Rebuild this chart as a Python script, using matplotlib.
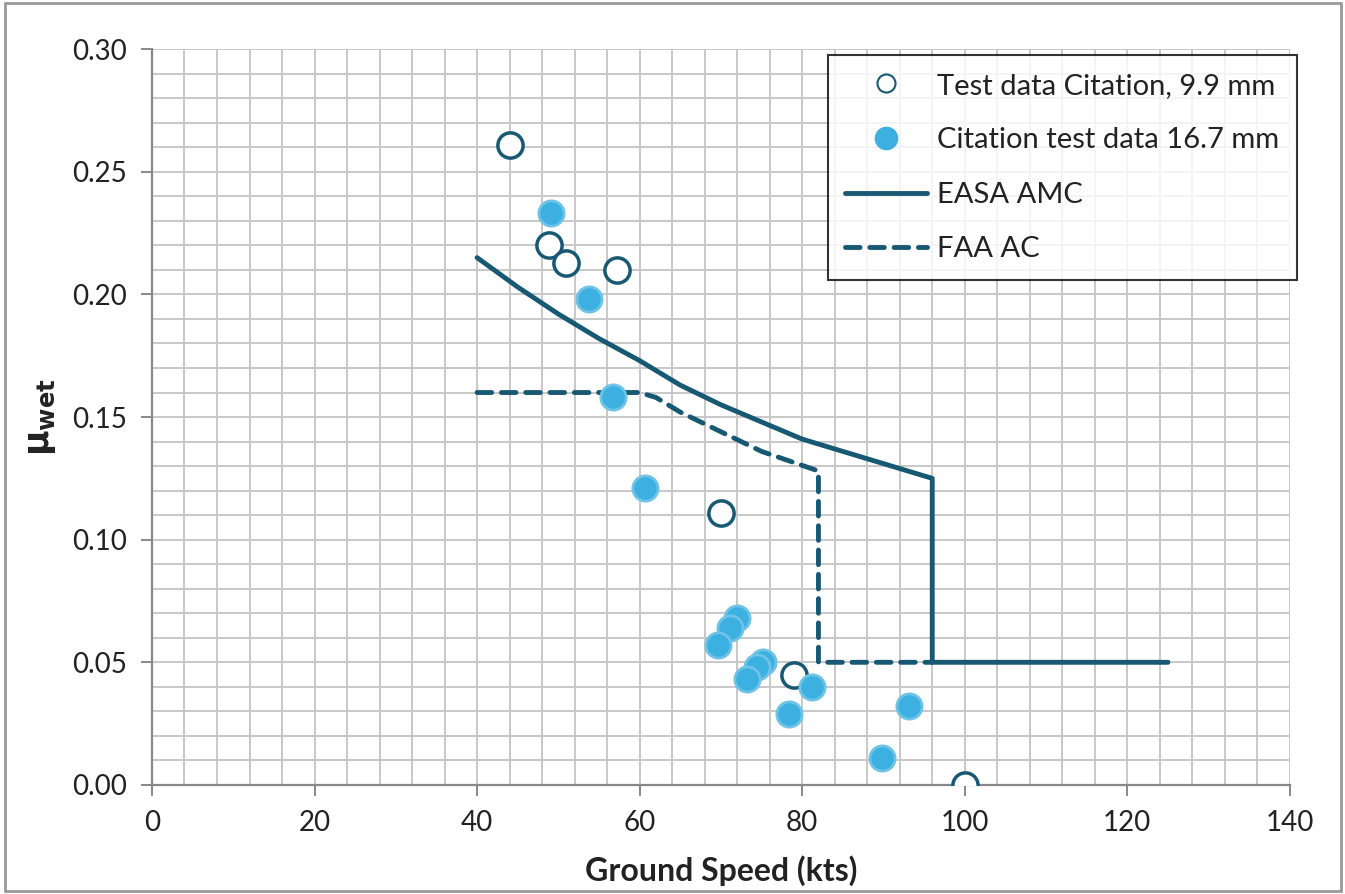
import matplotlib.pyplot as plt
from matplotlib.lines import Line2D
from matplotlib.patches import Rectangle
from matplotlib.ticker import MultipleLocator

plt.rcParams['font.family'] = ['Lato', 'DejaVu Sans']

# Test data Citation, 9.9 mm (open circles)
speed_99 = [44, 48.8, 51, 57.2, 70, 79, 100]
mu_99 = [0.261, 0.220, 0.213, 0.210, 0.111, 0.045, 0.000]

# Citation test data 16.7 mm (filled circles)
speed_167 = [49.1, 53.8, 56.7, 60.6, 72.0, 71.1, 69.6, 75.2, 74.4, 73.2, 78.4, 81.2, 89.8, 93.1]
mu_167 = [0.233, 0.198, 0.158, 0.121, 0.068, 0.064, 0.057, 0.050, 0.048, 0.043, 0.029, 0.040, 0.011, 0.032]

# EASA AMC curve
easa_speed = [40, 45, 50, 55, 60, 65, 70, 75, 80, 85, 90, 96, 96, 125]
easa_mu = [0.215, 0.203, 0.192, 0.182, 0.173, 0.163, 0.155, 0.148, 0.141, 0.136, 0.131, 0.125, 0.050, 0.050]

# FAA AC curve
faa_speed = [40, 60, 62, 65, 70, 75, 82, 82, 96]
faa_mu = [0.160, 0.160, 0.158, 0.152, 0.144, 0.136, 0.128, 0.050, 0.050]

dark = '#175873'
light = '#3cb0e0'

fig = plt.figure(figsize=(13.45, 8.94), dpi=100)
ax = fig.add_axes([0.113, 0.122, 0.846, 0.823])

ax.plot(easa_speed, easa_mu, color=dark, lw=3.5, solid_capstyle='round', zorder=3)
ax.plot(faa_speed, faa_mu, color=dark, lw=3.5, ls=(0, (3, 2)), dash_capstyle='round', zorder=3)
ax.scatter(speed_99, mu_99, s=330, facecolor='white', edgecolor=dark, linewidth=2.5, zorder=4)
ax.scatter(speed_167, mu_167, s=330, facecolor=light, edgecolor='#6fc3e6', linewidth=2, zorder=4)

ax.set_xlim(0, 140)
ax.set_ylim(0, 0.30)
ax.xaxis.set_major_locator(MultipleLocator(20))
ax.xaxis.set_minor_locator(MultipleLocator(4))
ax.yaxis.set_major_locator(MultipleLocator(0.05))
ax.yaxis.set_minor_locator(MultipleLocator(0.01))
ax.yaxis.set_major_formatter(lambda v, p: f'{v:.2f}')
ax.grid(which='both', color='#c8c8c8', lw=1.4)
ax.set_axisbelow(True)
ax.tick_params(which='major', direction='out', length=8, width=1.4, color='#888888',
               labelsize=20, labelcolor='#222222', pad=10)
ax.tick_params(which='minor', length=0)
for s in ['top', 'right']:
    ax.spines[s].set_visible(False)
for s in ['left', 'bottom']:
    ax.spines[s].set_color('#888888')
    ax.spines[s].set_linewidth(1.6)

ax.set_xlabel('Ground Speed (kts)', fontsize=23, fontweight='bold', color='#222222', labelpad=14)
ax.set_ylabel(r'$\mathbf{\mu_{wet}}$', fontsize=25, color='#222222', labelpad=10)

handles = [
    Line2D([], [], ls='none', marker='o', ms=13, mfc='white', mec=dark, mew=1.5),
    Line2D([], [], ls='none', marker='o', ms=16, mfc=light, mec=light),
    Line2D([], [], color=dark, lw=3.5, solid_capstyle='round'),
    Line2D([], [], color=dark, lw=3.5, ls=(0, (3, 2)), dash_capstyle='round'),
]
labels = ['Test data Citation, 9.9 mm', 'Citation test data 16.7 mm', 'EASA AMC', 'FAA AC']
leg = ax.legend(handles, labels, loc='upper right', bbox_to_anchor=(1.006, 0.992),
                borderaxespad=0, fontsize=21, frameon=True, fancybox=False, edgecolor='black',
                handlelength=2.8, handletextpad=0.35, labelspacing=0.98, borderpad=0.6,
                labelcolor='#222222')
leg.get_frame().set_linewidth(1.5)

fig.patches.append(Rectangle((0.004, 0.003), 0.993, 0.994, transform=fig.transFigure,
                             fill=False, edgecolor='#999999', lw=2))

fig.savefig('out.png', dpi=100)
